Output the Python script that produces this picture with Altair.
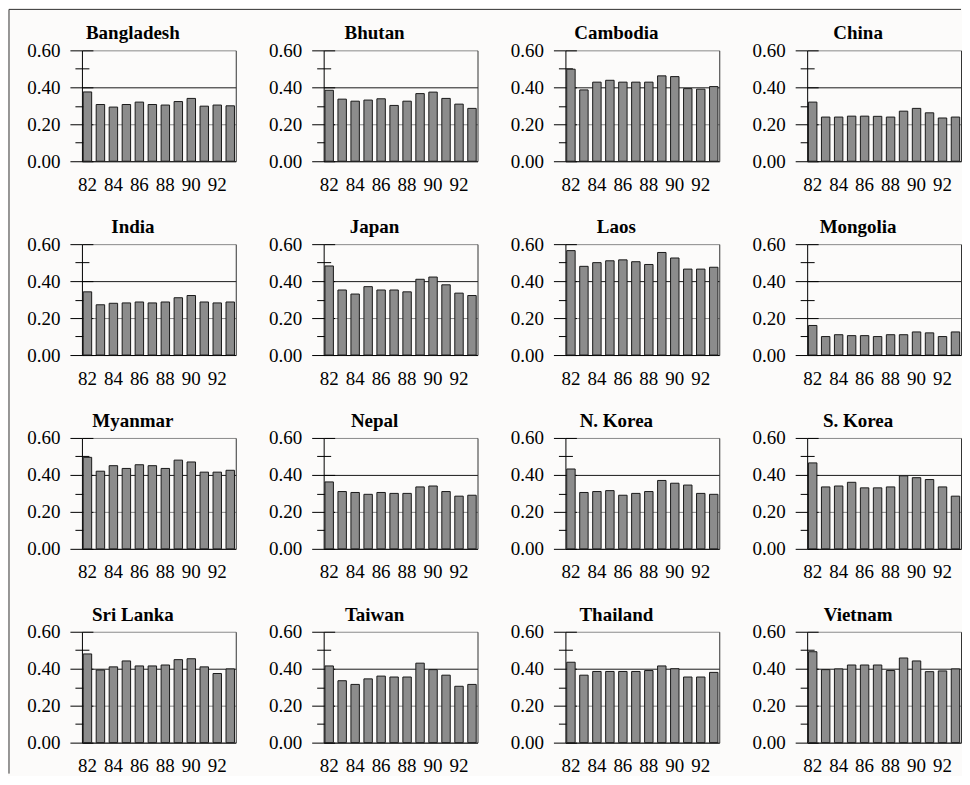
import altair as alt
import pandas as pd

years = ["82", "83", "84", "85", "86", "87", "88", "89", "90", "91", "92", "93"]
year_labels = ["82", "84", "86", "88", "90", "92"]

countries = ["Bangladesh", "Bhutan", "Cambodia", "China",
             "India", "Japan", "Laos", "Mongolia",
             "Myanmar", "Nepal", "N. Korea", "S. Korea",
             "Sri Lanka", "Taiwan", "Thailand", "Vietnam"]

bangladesh = [0.375, 0.307, 0.293, 0.307, 0.320, 0.307, 0.304, 0.323, 0.340, 0.298, 0.304, 0.300]
bhutan = [0.384, 0.336, 0.325, 0.331, 0.338, 0.302, 0.325, 0.366, 0.374, 0.340, 0.309, 0.286]
cambodia = [0.498, 0.386, 0.428, 0.438, 0.428, 0.428, 0.428, 0.462, 0.458, 0.393, 0.390, 0.404]
china = [0.320, 0.239, 0.239, 0.244, 0.244, 0.243, 0.239, 0.271, 0.286, 0.262, 0.234, 0.239]
india = [0.342, 0.272, 0.280, 0.282, 0.287, 0.282, 0.287, 0.310, 0.322, 0.287, 0.282, 0.287]
japan = [0.482, 0.352, 0.330, 0.370, 0.352, 0.352, 0.342, 0.410, 0.422, 0.380, 0.335, 0.322]
laos = [0.565, 0.480, 0.500, 0.510, 0.515, 0.505, 0.490, 0.555, 0.525, 0.465, 0.465, 0.475]
mongolia = [0.160, 0.100, 0.110, 0.105, 0.105, 0.100, 0.110, 0.110, 0.125, 0.120, 0.100, 0.125]
myanmar = [0.495, 0.420, 0.450, 0.435, 0.455, 0.450, 0.435, 0.480, 0.470, 0.415, 0.415, 0.425]
nepal = [0.362, 0.310, 0.305, 0.295, 0.305, 0.300, 0.300, 0.335, 0.340, 0.310, 0.285, 0.290]
n_korea = [0.432, 0.305, 0.310, 0.315, 0.290, 0.300, 0.310, 0.370, 0.355, 0.345, 0.300, 0.295]
s_korea = [0.465, 0.335, 0.340, 0.360, 0.330, 0.330, 0.335, 0.395, 0.385, 0.375, 0.335, 0.285]
sri_lanka = [0.480, 0.393, 0.410, 0.442, 0.415, 0.415, 0.420, 0.449, 0.454, 0.410, 0.374, 0.399]
taiwan = [0.415, 0.335, 0.315, 0.345, 0.360, 0.355, 0.355, 0.430, 0.395, 0.365, 0.305, 0.315]
thailand = [0.435, 0.365, 0.385, 0.385, 0.385, 0.385, 0.390, 0.415, 0.400, 0.355, 0.355, 0.380]
vietnam = [0.492, 0.395, 0.399, 0.420, 0.420, 0.420, 0.390, 0.458, 0.442, 0.384, 0.388, 0.399]

series = [bangladesh, bhutan, cambodia, china,
          india, japan, laos, mongolia,
          myanmar, nepal, n_korea, s_korea,
          sri_lanka, taiwan, thailand, vietnam]

major_ticks = [0.0, 0.2, 0.4, 0.6]
minor_ticks = [0.1, 0.3, 0.5]

rows = []
for c, vals in zip(countries, series):
    for y, v in zip(years, vals):
        rows.append({"country": c, "year": y, "value": v})
df = pd.DataFrame(rows)

FONT = "Liberation Serif"
FS = 19
W, H = 154, 111


def panel(name, first=False):
    base = alt.Chart(df).transform_filter(alt.datum.country == name)
    ysc = alt.Scale(domain=[0, 0.6], nice=False, zero=True)
    xsc = alt.Scale(paddingInner=0.35, paddingOuter=0.1)
    x_enc = alt.X("year:O", sort=years, scale=xsc, title=None,
                  axis=alt.Axis(values=year_labels, ticks=False, labelAngle=0,
                                domainColor="black", labelFont=FONT, labelFontSize=FS,
                                labelColor="black", labelPadding=14, grid=False))

    bars = base.mark_bar(fill="#8c8c8c", stroke="#1a1a1a", strokeWidth=1).encode(
        x=x_enc,
        y=alt.Y("value:Q", scale=ysc, title=None,
                axis=alt.Axis(values=major_ticks, format=".2f", orient="left",
                              tickSize=12, tickColor="black", domainColor="black",
                              labelFont=FONT, labelFontSize=FS, labelColor="black",
                              labelPadding=10, grid=True,
                              gridColor={"condition": {"test": "datum.value == 0.4", "value": "#1a1a1a"},
                                         "value": "#8a8a8a"},
                              gridOpacity=1, gridWidth=1)),
    ).properties(width=W, height=H)
    inner_major = base.mark_tick(opacity=0).encode(
        x=x_enc,
        y=alt.Y("value:Q", scale=ysc, title=None,
                axis=alt.Axis(values=major_ticks, orient="left", offset=-11, tickSize=11,
                              tickColor="black", domain=False, labels=False, grid=False)),
    ).properties(width=W, height=H)
    minor = base.mark_tick(opacity=0).encode(
        x=x_enc,
        y=alt.Y("value:Q", scale=ysc, title=None,
                axis=alt.Axis(values=minor_ticks, orient="left", offset=-7, tickSize=14,
                              tickColor="black", domain=False, labels=False, grid=False)),
    ).properties(width=W, height=H)
    right = base.mark_tick(opacity=0).encode(
        x=x_enc,
        y=alt.Y("value:Q", scale=ysc, title=None,
                axis=alt.Axis(orient="right", ticks=False, labels=False, grid=False,
                              domain=True, domainColor="#333333")),
    ).properties(width=W, height=H)
    title_df = pd.DataFrame({"country": [name]})
    title = alt.Chart(title_df).mark_text(
        font=FONT, fontSize=FS, fontWeight="bold", color="black",
        align="center", baseline="alphabetic"
    ).encode(text="country:N", x=alt.value(51), y=alt.value(-11)).properties(width=W, height=H)
    layers = [bars, inner_major, minor, right, title]
    if first:
        frame_df = pd.DataFrame({"k": [0]})
        top_border = alt.Chart(frame_df).mark_rule(color="#333333", strokeWidth=1).encode(
            x=alt.value(-73), x2=alt.value(880), y=alt.value(-41)
        ).properties(width=W, height=H)
        left_border = alt.Chart(frame_df).mark_rule(color="#333333", strokeWidth=1).encode(
            x=alt.value(-73), y=alt.value(-41), y2=alt.value(724)
        ).properties(width=W, height=H)
        layers += [top_border, left_border]
    return alt.layer(*layers).resolve_axis(y="independent")


chart = alt.concat(*[panel(c, i == 0) for i, c in enumerate(countries)], columns=4,
                   bounds="flush", spacing={"row": 83, "column": 88}).configure(
    background="#fcfbfa",
    padding={"left": 0, "top": 0, "right": 0, "bottom": 0},
).configure_view(stroke=None)

chart.save("out.html", embed_options={"renderer": "svg", "actions": False})
